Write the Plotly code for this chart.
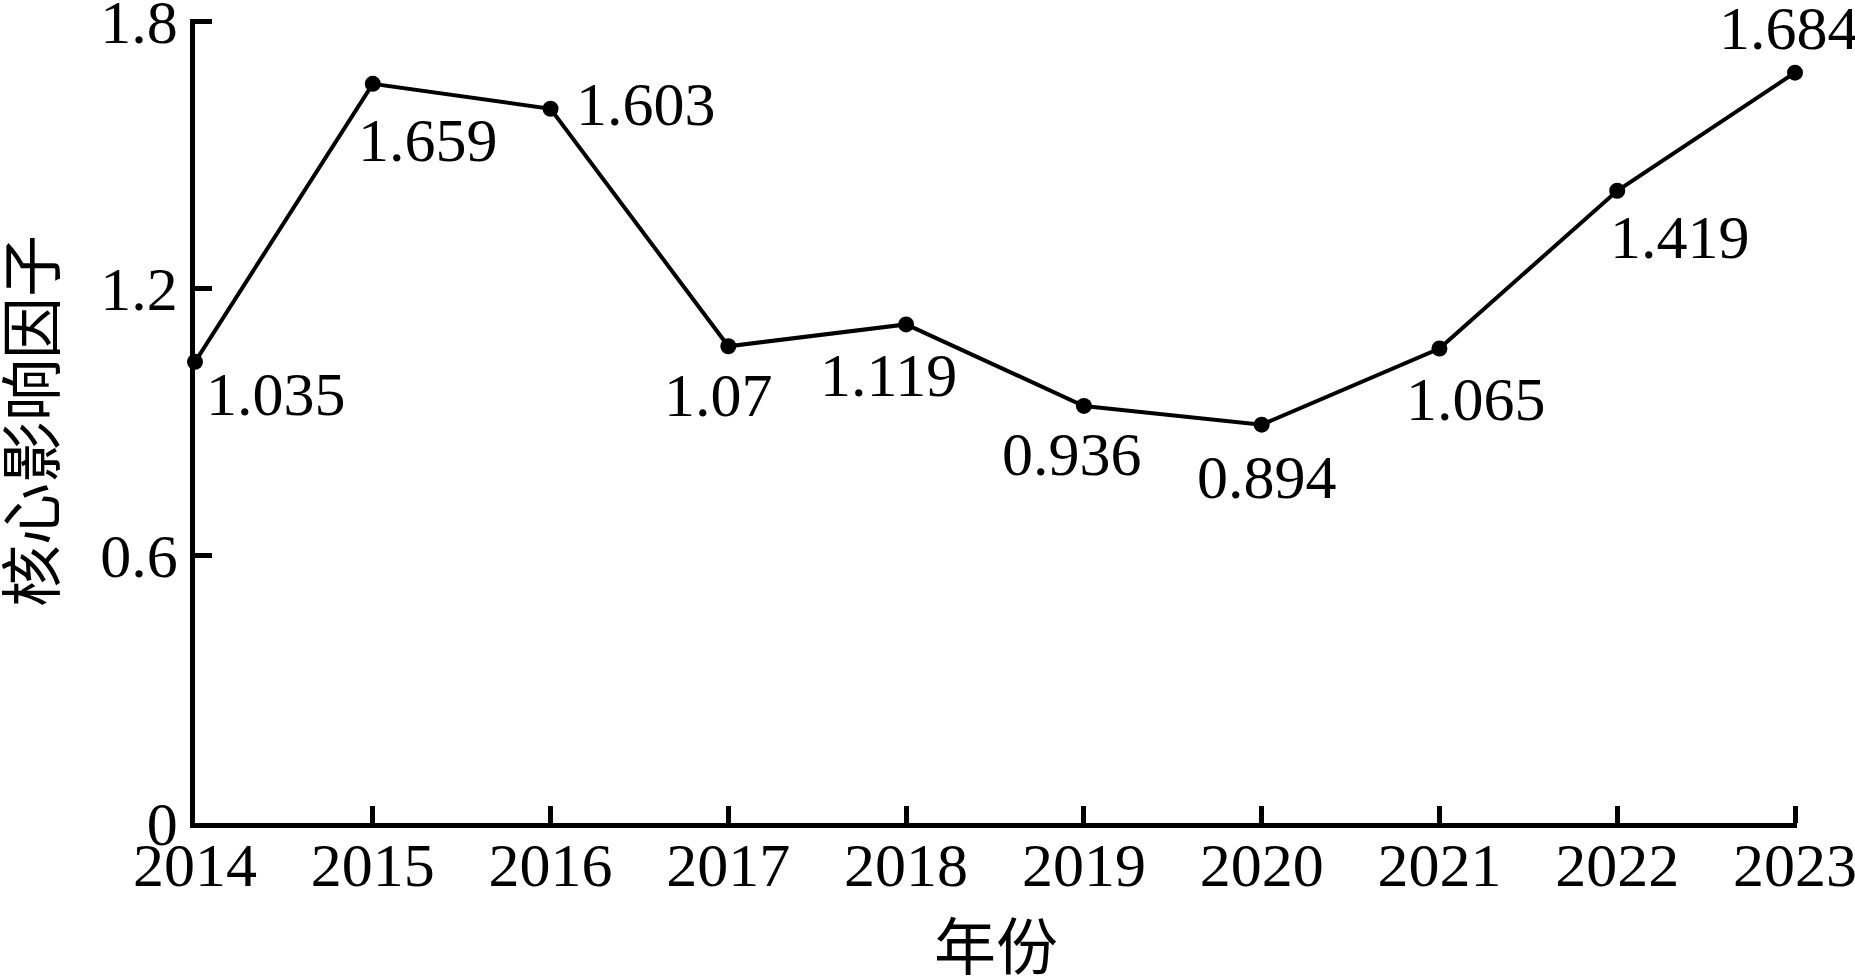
import plotly.graph_objects as go

years = [2014, 2015, 2016, 2017, 2018, 2019, 2020, 2021, 2022, 2023]
values = [1.035, 1.659, 1.603, 1.07, 1.119, 0.936, 0.894, 1.065, 1.419, 1.684]
labels = ["1.035", "1.659", "1.603", "1.07", "1.119", "0.936", "0.894", "1.065", "1.419", "1.684"]
y_ticks = [0, 0.6, 1.2, 1.8]
y_tick_text = ["0", "0.6", "1.2", "1.8"]
x_title = "年份"
y_title = "核心影响因子"

# label offsets in pixels (dx right, dy up) -- styling only
label_shift = [(81, -32), (55, -56), (95, 5), (-10, -49), (-18, -51),
               (-12, -48), (5, -52), (37, -51), (63, -46), (-6, 45)]

FONT = '"Liberation Serif", "Noto Sans CJK SC", serif'
FS = 62

# plot-area geometry (px); a few spare pixels beyond the last tick keep the
# inside end ticks from being clipped by plotly
L, R, T, B = 195, 58, 19, 156
W, H = 1855, 979
EXTRA = 2
plot_w = W - L - R
plot_h = H - T - B
x_min, x_max = years[0], years[-1]
y_min, y_max = y_ticks[0], y_ticks[-1]
x_range = [x_min, x_min + (x_max - x_min) * plot_w / (plot_w - EXTRA)]
y_range = [y_min, y_min + (y_max - y_min) * plot_h / (plot_h - EXTRA)]

fig = go.Figure()
fig.add_trace(go.Scatter(
    x=years, y=values, mode="lines+markers",
    line=dict(color="black", width=4),
    marker=dict(color="black", size=16),
    cliponaxis=False, showlegend=False, hoverinfo="x+y",
))

for x, y, t, (dx, dy) in zip(years, values, labels, label_shift):
    fig.add_annotation(x=x, y=y, text=t, showarrow=False,
                       xshift=dx, yshift=dy, xanchor="center", yanchor="middle",
                       font=dict(family=FONT, size=FS, color="black"))

# x-axis title placed below the tick labels (the reference lets it touch the bottom edge)
fig.add_annotation(xref="x domain", yref="paper", x=0.5, y=0, yshift=-126,
                   xanchor="center", yanchor="middle", showarrow=False,
                   text=x_title, font=dict(family=FONT, size=FS, color="black"))

fig.update_layout(
    width=W, height=H,
    margin=dict(l=L, r=R, t=T, b=B, autoexpand=False),
    paper_bgcolor="white", plot_bgcolor="white",
    font=dict(family=FONT, size=FS, color="black"),
)
fig.update_xaxes(
    range=x_range, tickmode="array", tickvals=years,
    ticktext=[str(y) for y in years],
    showline=True, linecolor="black", linewidth=4.5,
    ticks="inside", ticklen=17, tickwidth=4.5, tickcolor="black",
    showgrid=False, zeroline=False,
    tickfont=dict(family=FONT, size=FS),
    ticklabelstandoff=-16, ticklabeloverflow="allow",
    automargin=False,
)
fig.update_yaxes(
    range=y_range, tickmode="array", tickvals=y_ticks, ticktext=y_tick_text,
    showline=True, linecolor="black", linewidth=4.5,
    ticks="inside", ticklen=17, tickwidth=4.5, tickcolor="black",
    showgrid=False, zeroline=False,
    title=dict(text=y_title, font=dict(family=FONT, size=FS), standoff=30),
    tickfont=dict(family=FONT, size=FS),
    ticklabeloverflow="allow",
    automargin=False,
)

fig.write_html("out.html", config={"displayModeBar": False},
               post_script="document.body.style.margin='0px';document.body.style.overflow='hidden';")
